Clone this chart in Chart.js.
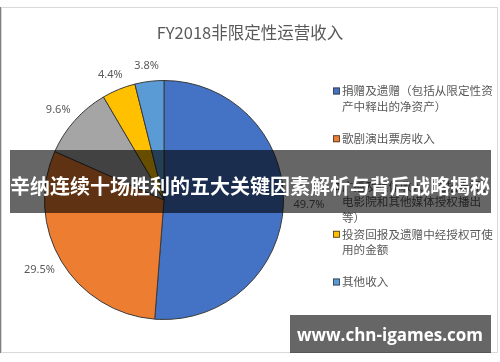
<!DOCTYPE html>
<html>
<head>
<meta charset="utf-8">
<script src="https://cdn.jsdelivr.net/npm/chart.js@4.4.0/dist/chart.umd.min.js"></script>
<style>
  html, body { margin: 0; padding: 0; background: #ffffff; }
  #wrap { position: relative; width: 500px; height: 362px; }
  canvas { display: block; }
</style>
</head>
<body>
<div id="wrap"><canvas id="c" width="500" height="362"></canvas></div>
<script>
// ---- data ----
const chartTitle = 'FY2018非限定性运营收入';
const categories = [
  '捐赠及遗赠（包括从限定性资产中释出的净资产）',
  '歌剧演出票房收入',
  '广播及媒体收入（包括电视、电影院和其他媒体授权播出等）',
  '投资回报及遗赠中经授权可使用的金额',
  '其他收入'
];
const shares = [49.7, 29.5, 9.6, 4.4, 3.8];
const sliceColors = ['#4472C4', '#ED7D31', '#A5A5A5', '#FFC000', '#5B9BD5'];
const bannerText = '辛纳连续十场胜利的五大关键因素解析与背后战略揭秘';
const watermarkText = 'www.chn-igames.com';

const CJK = '"Noto Sans CJK SC", "Noto Sans", sans-serif';
const TEXT_GREY = '#595959';

function wrapText(ctx, text, maxW) {
  const closers = '）)，、。';
  const lines = [];
  let cur = '';
  const chars = Array.from(text);
  for (let i = 0; i < chars.length; i++) {
    const ch = chars[i];
    if (ctx.measureText(cur + ch).width > maxW && cur.length) {
      if (closers.includes(ch)) {
        const arr = Array.from(cur);
        const last = arr.pop();
        lines.push(arr.join(''));
        cur = last + ch;
      } else {
        lines.push(cur);
        cur = ch;
      }
    } else {
      cur += ch;
    }
  }
  if (cur) lines.push(cur);
  return lines;
}

const framePlugin = {
  id: 'frame',
  beforeDraw(chart) {
    const ctx = chart.ctx;
    ctx.save();
    ctx.fillStyle = '#ffffff';
    ctx.fillRect(0, 0, chart.width, chart.height);
    ctx.strokeStyle = '#d9d9d9';
    ctx.lineWidth = 1;
    ctx.strokeRect(1.5, 7.5, 496, 345);
    ctx.strokeStyle = '#7f7f7f';
    ctx.beginPath(); ctx.moveTo(0.5, 7); ctx.lineTo(0.5, 353); ctx.stroke();
    ctx.fillStyle = TEXT_GREY;
    ctx.font = '16.5px ' + CJK;
    ctx.textAlign = 'center';
    ctx.textBaseline = 'middle';
    ctx.fillText(chartTitle, 250, 33);
    ctx.restore();
  }
};

const labelsPlugin = {
  id: 'outLabels',
  afterDatasetsDraw(chart) {
    const ctx = chart.ctx;
    const meta = chart.getDatasetMeta(0);
    ctx.save();
    ctx.font = '11px "Noto Sans", sans-serif';
    ctx.fillStyle = TEXT_GREY;
    ctx.textAlign = 'center';
    ctx.textBaseline = 'middle';
    meta.data.forEach((arc, i) => {
      const p = arc.getProps(['x', 'y', 'startAngle', 'endAngle', 'outerRadius'], true);
      const mid = (p.startAngle + p.endAngle) / 2;
      const dx = Math.cos(mid), dy = Math.sin(mid);
      const txt = shares[i].toFixed(1) + '%';
      const w = ctx.measureText(txt).width;
      const r = p.outerRadius + 10;
      const cx = p.x + dx * r + dx * w / 2;
      const cy = p.y + dy * r + dy * 6;
      ctx.fillText(txt, cx, cy);
    });
    ctx.restore();
  }
};

const legendPlugin = {
  id: 'wrapLegend',
  afterDatasetsDraw(chart) {
    const ctx = chart.ctx;
    const ds = chart.data.datasets[0];
    ctx.save();
    ctx.font = '11.6px ' + CJK;
    ctx.textAlign = 'left';
    ctx.textBaseline = 'middle';
    const maxW = ctx.measureText('投资回报及遗赠中经授权可使').width + 1;
    const x0 = 333, tx = 342, y0 = 91, step = 47.75, lh = 15.5;
    chart.data.labels.forEach((lab, i) => {
      const y = y0 + i * step;
      ctx.fillStyle = ds.backgroundColor[i];
      ctx.fillRect(x0, y - 3.5, 7, 7);
      ctx.strokeStyle = '#3a3a3a';
      ctx.lineWidth = 0.8;
      ctx.strokeRect(x0 + 0.5, y - 3, 6, 6);
      ctx.fillStyle = TEXT_GREY;
      const lines = wrapText(ctx, lab, maxW);
      lines.forEach((ln, k) => ctx.fillText(ln, tx, y + k * lh));
    });
    ctx.restore();
  }
};

const overlayPlugin = {
  id: 'overlay',
  afterDraw(chart) {
    const ctx = chart.ctx;
    ctx.save();
    ctx.fillStyle = 'rgba(0,0,0,0.6)';
    ctx.fillRect(10, 150, 481, 63);
    ctx.fillStyle = '#ffffff';
    ctx.font = 'bold 20px ' + CJK;
    ctx.textAlign = 'center';
    ctx.textBaseline = 'middle';
    ctx.fillText(bannerText, 250, 186);
    ctx.fillStyle = 'rgba(0,0,0,0.6)';
    ctx.fillRect(290, 315, 201, 38);
    ctx.fillStyle = '#ffffff';
    ctx.font = 'bold 17px "Open Sans", "DejaVu Sans", sans-serif';
    ctx.fillText(watermarkText, 390, 336);
    ctx.restore();
  }
};

new Chart(document.getElementById('c'), {
  type: 'pie',
  data: {
    labels: categories,
    datasets: [{
      data: shares,
      backgroundColor: sliceColors,
      borderColor: '#3a3a3a',
      borderWidth: 1
    }]
  },
  options: {
    responsive: false,
    animation: false,
    layout: { padding: { left: 44, top: 80, right: 216, bottom: 42 } },
    plugins: {
      legend: { display: false },
      title: { display: false },
      tooltip: { enabled: false }
    }
  },
  plugins: [framePlugin, labelsPlugin, legendPlugin, overlayPlugin]
});
</script>
</body>
</html>
